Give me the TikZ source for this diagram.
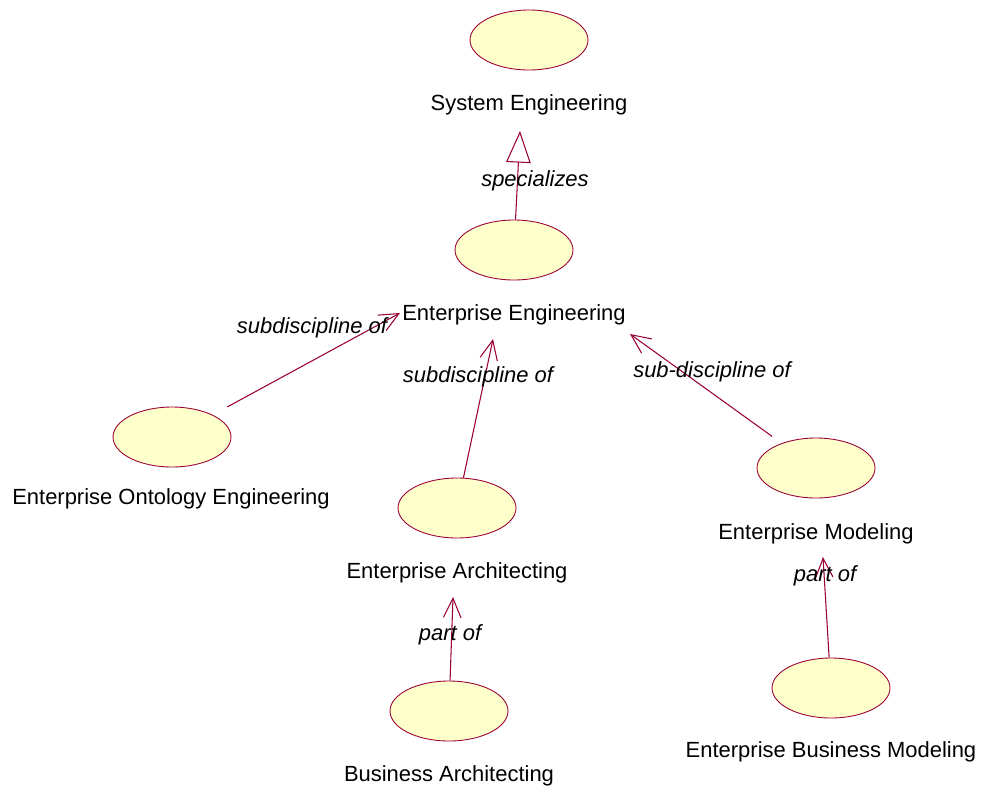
\documentclass[tikz,border=0pt]{standalone}
\usepackage{fontspec}
\setmainfont{Liberation Sans}
\usetikzlibrary{arrows.meta, shapes.geometric, positioning}
\definecolor{roseLine}{HTML}{990033}
\definecolor{roseFill}{HTML}{FFFFCC}

\begin{document}
\begin{tikzpicture}[x=0.02cm, y=-0.02cm, font=\fontsize{12.5}{15}\selectfont]
		\tikzstyle{UseCase} = [ellipse, minimum width=2.36cm, minimum height=1.2cm, inner sep=0pt, draw=roseLine, fill=roseFill, line width=0.5pt]
		\tikzstyle{Name} = [anchor=base, inner sep=0pt]
		\tikzstyle{Role} = [anchor=base, inner sep=0pt, font=\fontsize{12.5}{15}\selectfont\itshape]
		\tikzstyle{arrow} = [roseLine, line width=0.6pt, -{Straight Barb[length=11pt, width=10pt]}]
		\tikzstyle{generalize} = [roseLine, line width=0.6pt, -{Triangle[open, length=18pt, width=14pt]}]
		
		\useasboundingbox (0,0) rectangle (987,785);
		
		% use cases
		\node (sysEng) [UseCase] at (529,40) {};
		\node (entEng) [UseCase] at (514,250) {};
		\node (ontEng) [UseCase] at (172,437) {};
		\node (entArch) [UseCase] at (457,508) {};
		\node (entMod) [UseCase] at (816,468) {};
		\node (busArch) [UseCase] at (449,711) {};
		\node (busMod) [UseCase] at (831,688) {};
		
		% names under the use cases
		\node (sysEngName) [Name] at (529,110) {System Engineering};
		\node (entEngName) [Name] at (514,320) {Enterprise Engineering};
		\node (ontEngName) [Name] at (171,504) {Enterprise Ontology Engineering};
		\node (entArchName) [Name] at (457,578) {Enterprise Architecting};
		\node (entModName) [Name] at (816,539) {Enterprise Modeling};
		\node (busArchName) [Name] at (449,781) {Business Architecting};
		\node (busModName) [Name] at (831,757) {Enterprise Business Modeling};
		
		% arrow tips
		\coordinate (sysEngTip) at (520,131);
		\coordinate (entEngTipA) at (400,313);
		\coordinate (entEngTipB) at (493,339);
		\coordinate (entEngTipC) at (630,334);
		\coordinate (entArchTip) at (453,597);
		\coordinate (entModTip) at (823,557);
		
		\draw [generalize] (entEng) -- (sysEngTip);
		\draw [arrow, shorten <=16.6*0.02cm] (ontEng) -- (entEngTipA);
		\draw [arrow] (entArch) -- (entEngTipB);
		\draw [arrow, shorten <=11.7*0.02cm] (entMod) -- (entEngTipC);
		\draw [arrow] (busArch) -- (entArchTip);
		\draw [arrow] (busMod) -- (entModTip);
		
		% relation labels
		\node (specLabel) [Role] at (535,186) {specializes};
		\node (subLabelA) [Role] at (312,333) {subdiscipline of};
		\node (subLabelB) [Role] at (478,382) {subdiscipline of};
		\node (subLabelC) [Role] at (712,377) {sub-discipline of};
		\node (partLabelA) [Role] at (450,640) {part of};
		\node (partLabelB) [Role] at (825,581) {part of};
\end{tikzpicture}
\end{document}
